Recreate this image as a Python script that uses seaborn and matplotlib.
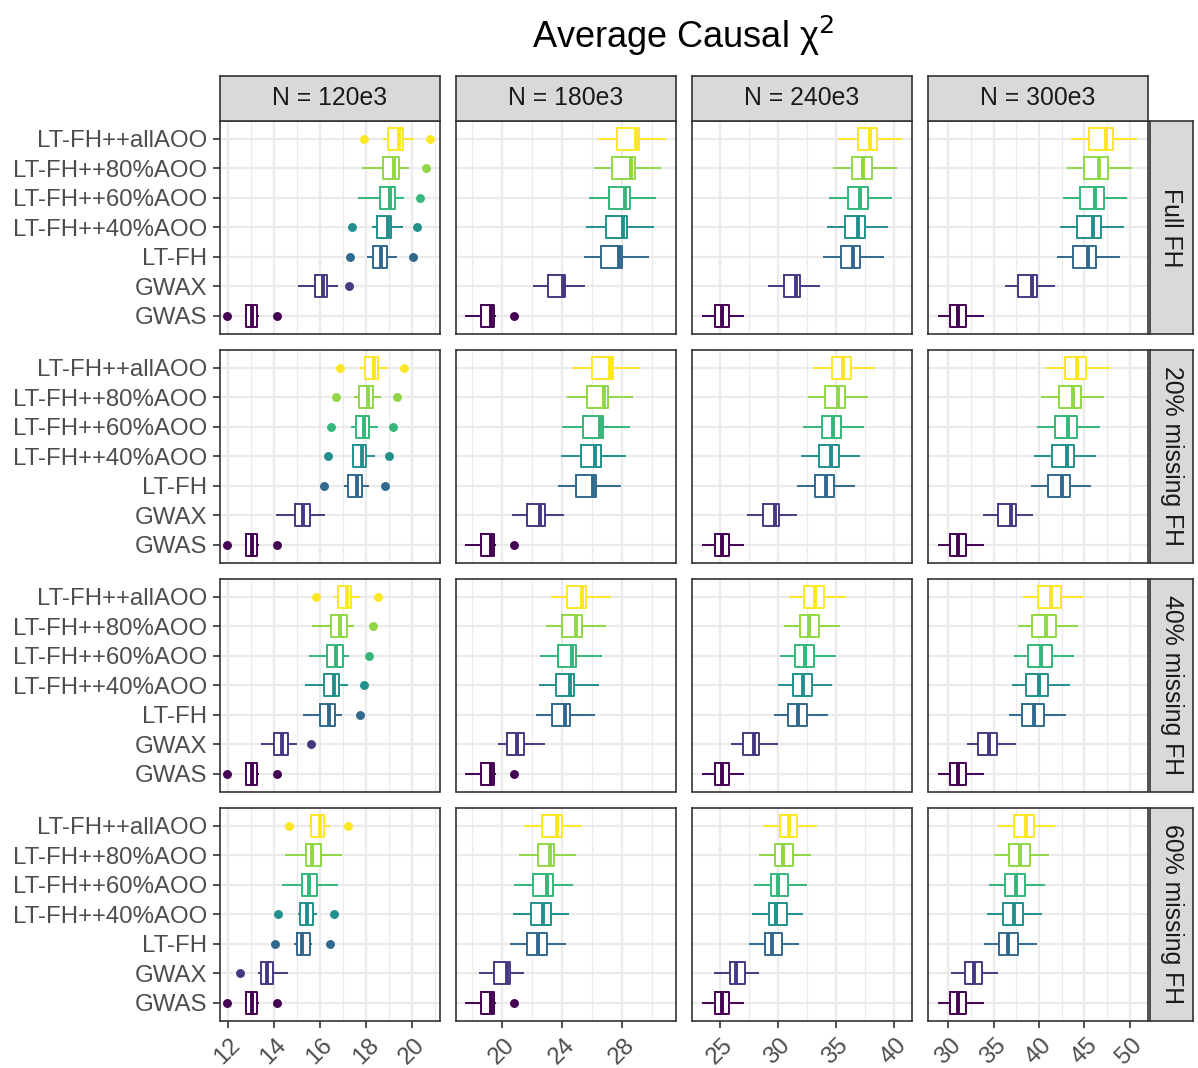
import numpy as np
import pandas as pd
import matplotlib
matplotlib.use("Agg")
import matplotlib.pyplot as plt
import seaborn as sns
from matplotlib.ticker import MultipleLocator

# ---------------- data ----------------
methods = ["LT-FH++allAOO", "LT-FH++80%AOO", "LT-FH++60%AOO", "LT-FH++40%AOO",
           "LT-FH", "GWAX", "GWAS"]
sample_sizes = ["N = 120e3", "N = 180e3", "N = 240e3", "N = 300e3"]
scenarios = ["Full FH", "20% missing FH", "40% missing FH", "60% missing FH"]
palette = ["#FDE725", "#8FD744", "#35B779", "#21908C", "#31688E", "#443A83", "#440154"]

# box summaries per method (top to bottom): (lower whisker, Q1, median, Q3, upper whisker)
full_120 = [(18.75, 18.96, 19.43, 19.60, 20.09), (17.84, 18.75, 19.23, 19.43, 19.88),
            (17.67, 18.61, 19.04, 19.26, 19.67), (18.25, 18.46, 18.94, 19.09, 19.59),
            (18.06, 18.29, 18.67, 18.90, 19.33), (15.06, 15.78, 16.14, 16.33, 16.80),
            (12.74, 12.80, 13.06, 13.29, 13.36)]
full_180 = [(26.39, 27.67, 28.93, 29.10, 30.88), (26.10, 27.34, 28.55, 28.82, 30.59),
            (25.77, 27.10, 28.20, 28.49, 30.26), (25.60, 26.90, 28.04, 28.33, 30.08),
            (25.44, 26.61, 27.78, 28.00, 29.77), (22.08, 23.07, 24.07, 24.18, 25.50),
            (17.55, 18.62, 19.27, 19.45, 19.58)]
full_240 = [(35.18, 36.90, 37.96, 38.53, 40.74), (34.80, 36.38, 37.33, 38.16, 40.25),
            (34.43, 36.04, 37.10, 37.81, 39.88), (34.23, 35.81, 36.95, 37.53, 39.53),
            (33.86, 35.46, 36.44, 37.10, 39.16), (29.16, 30.50, 31.60, 31.88, 33.60),
            (23.49, 24.57, 25.20, 25.77, 27.12)]
full_300 = [(43.58, 45.52, 47.41, 48.18, 50.81), (43.14, 44.97, 46.60, 47.63, 50.26),
            (42.67, 44.53, 46.18, 47.16, 49.72), (42.34, 44.24, 45.96, 46.87, 49.43),
            (41.98, 43.77, 45.45, 46.32, 48.99), (36.21, 37.67, 39.20, 39.75, 41.76),
            (28.90, 30.19, 31.03, 32.00, 33.91)]

m20_120 = [(17.73, 17.95, 18.34, 18.52, 18.96), (17.47, 17.72, 18.09, 18.32, 18.67),
           (17.35, 17.55, 17.90, 18.15, 18.51), (17.40, 17.42, 17.83, 18.00, 18.41),
           (17.03, 17.22, 17.61, 17.83, 18.15), (14.10, 14.93, 15.27, 15.58, 16.23),
           (12.74, 12.80, 13.06, 13.29, 13.36)]
m20_180 = [(24.66, 26.00, 27.16, 27.37, 29.15), (24.35, 25.67, 26.76, 27.03, 28.70),
           (24.00, 25.39, 26.50, 26.72, 28.49), (23.89, 25.22, 26.17, 26.55, 28.27),
           (23.69, 24.91, 26.02, 26.24, 27.94), (20.68, 21.68, 22.52, 22.85, 24.11),
           (17.55, 18.62, 19.27, 19.45, 19.58)]
m20_240 = [(33.00, 34.69, 35.64, 36.30, 38.36), (32.57, 34.11, 35.15, 35.83, 37.79),
           (32.20, 33.77, 34.78, 35.49, 37.42), (31.97, 33.57, 34.63, 35.27, 37.07),
           (31.62, 33.25, 34.15, 34.84, 36.69), (27.38, 28.76, 29.76, 30.13, 31.68),
           (23.49, 24.57, 25.20, 25.77, 27.12)]
m20_300 = [(40.73, 42.86, 44.21, 45.22, 47.85), (40.19, 42.20, 43.73, 44.68, 47.13),
           (39.75, 41.76, 43.19, 44.21, 46.76), (39.46, 41.47, 43.11, 43.91, 46.32),
           (39.17, 41.03, 42.56, 43.41, 45.77), (33.80, 35.44, 36.90, 37.52, 39.35),
           (28.90, 30.19, 31.03, 32.00, 33.91)]

m40_120 = [(16.60, 16.78, 17.18, 17.33, 17.73), (15.68, 16.50, 16.86, 17.18, 17.50),
           (15.55, 16.31, 16.71, 17.00, 17.25), (15.37, 16.20, 16.60, 16.81, 17.20),
           (15.25, 16.02, 16.38, 16.67, 16.96), (13.45, 14.03, 14.35, 14.64, 15.03),
           (12.74, 12.80, 13.06, 13.29, 13.36)]
m40_180 = [(23.25, 24.33, 25.35, 25.57, 27.27), (22.92, 24.02, 24.95, 25.35, 26.94),
           (22.56, 23.73, 24.66, 24.95, 26.68), (22.45, 23.56, 24.51, 24.79, 26.45),
           (22.25, 23.34, 24.18, 24.51, 26.17), (19.71, 20.31, 20.97, 21.48, 22.85),
           (17.55, 18.62, 19.27, 19.45, 19.58)]
m40_240 = [(30.97, 32.28, 33.20, 33.98, 35.87), (30.56, 31.91, 32.69, 33.57, 35.40),
           (30.19, 31.48, 32.34, 33.14, 35.00), (29.99, 31.28, 32.14, 32.91, 34.69),
           (29.68, 30.91, 31.77, 32.48, 34.35), (25.95, 26.98, 27.98, 28.41, 30.05),
           (23.49, 24.57, 25.20, 25.77, 27.12)]
m40_300 = [(38.26, 39.90, 41.36, 42.38, 44.94), (37.74, 39.28, 40.73, 41.91, 44.28),
           (37.27, 38.84, 40.26, 41.39, 43.84), (37.01, 38.54, 40.01, 41.03, 43.47),
           (36.73, 38.10, 39.46, 40.56, 43.00), (32.08, 33.33, 34.46, 35.37, 37.45),
           (28.90, 30.19, 31.03, 32.00, 33.91)]

m60_120 = [(15.54, 15.63, 15.99, 16.20, 16.45), (14.50, 15.40, 15.68, 16.06, 16.96),
           (14.35, 15.22, 15.54, 15.87, 16.77), (15.05, 15.12, 15.44, 15.69, 15.87),
           (14.86, 15.00, 15.22, 15.56, 15.66), (13.33, 13.45, 13.73, 13.96, 14.64),
           (12.74, 12.80, 13.06, 13.29, 13.36)]
m60_180 = [(21.48, 22.67, 23.63, 23.96, 25.33), (21.15, 22.37, 23.18, 23.47, 24.95),
           (20.82, 22.08, 22.96, 23.40, 24.73), (20.71, 21.92, 22.74, 23.23, 24.46),
           (20.53, 21.68, 22.41, 22.96, 24.24), (18.50, 19.47, 20.31, 20.53, 21.48),
           (17.55, 18.62, 19.27, 19.45, 19.58)]
m60_240 = [(28.76, 30.19, 31.00, 31.68, 33.34), (28.41, 29.76, 30.42, 31.34, 32.86),
           (27.98, 29.42, 29.99, 30.91, 32.54), (27.81, 29.25, 29.85, 30.76, 32.20),
           (27.53, 28.90, 29.47, 30.39, 31.85), (24.54, 25.89, 26.41, 27.18, 28.41),
           (23.49, 24.57, 25.20, 25.77, 27.12)]
m60_300 = [(35.44, 37.27, 38.54, 39.46, 41.76), (35.00, 36.73, 37.93, 38.98, 41.11),
           (34.53, 36.24, 37.45, 38.48, 40.67), (34.27, 35.99, 37.20, 38.26, 40.30),
           (33.99, 35.63, 36.62, 37.74, 39.82), (30.33, 31.86, 32.81, 33.72, 35.44),
           (28.90, 30.19, 31.03, 32.00, 33.91)]

# outlying points (per method, top to bottom)
out_full_120 = [[17.90, 20.78], [20.61], [20.35], [17.40, 20.20], [17.30, 20.03], [17.25], [11.98, 14.16]]
out_m20_120 = [[16.86, 19.64], [16.70, 19.35], [16.50, 19.16], [16.35, 18.99], [16.20, 18.81], [], [11.98, 14.16]]
out_m40_120 = [[15.84, 18.53], [18.31], [18.12], [17.93], [17.76], [15.62], [11.98, 14.16]]
out_m60_120 = [[14.68, 17.22], [], [], [14.20, 16.60], [14.06, 16.45], [12.54], [11.98, 14.16]]
out_any_180 = [[], [], [], [], [], [], [20.80]]
out_none = [[], [], [], [], [], [], []]

panels = [
    [(full_120, out_full_120), (full_180, out_any_180), (full_240, out_none), (full_300, out_none)],
    [(m20_120, out_m20_120), (m20_180, out_any_180), (m20_240, out_none), (m20_300, out_none)],
    [(m40_120, out_m40_120), (m40_180, out_any_180), (m40_240, out_none), (m40_300, out_none)],
    [(m60_120, out_m60_120), (m60_180, out_any_180), (m60_240, out_none), (m60_300, out_none)],
]

x_limits = [(11.67, 21.19), (16.95, 31.54), (22.63, 41.54), (27.81, 52.0)]
x_major = [2, 4, 5, 5]
x_minor = [1, 2, 2.5, 2.5]


def summary_to_sample(lo, q1, med, q3, hi, outs):
    """Smallest sample whose Tukey box summary equals the given values."""
    low = sorted(v for v in outs if v < q1)
    high = sorted(v for v in outs if v > q3)
    a, b = len(low), len(high)
    m = max(a, b) + 2
    vals = (low + [lo] + [q1] * (m - a - 1) + [q1]
            + [med] * (m - 1) + [med] + [med] * (m - 1)
            + [q3] + [q3] * (m - b - 1) + [hi] + high)
    return vals


# ---------------- style ----------------
sns.set_style("white")
plt.rcParams["font.family"] = ["Liberation Sans", "DejaVu Sans"]

W, H = 1198, 1068
fig = plt.figure(figsize=(W / 100, H / 100), dpi=100)


def rect(x0, y0, x1, y1):
    return [x0 / W, 1 - y1 / H, (x1 - x0) / W, (y1 - y0) / H]


col_left = [220, 456.1, 692.2, 928.3]
panel_w = 219.5
row_top = [121, 350, 579, 808]
panel_h = 212.5
border = "#333333"
grid_c = "#EBEBEB"
text_c = "#4D4D4D"
fs = 17.3

for r in range(4):
    for c in range(4):
        stats, outs = panels[r][c]
        rows = []
        for meth, st, ol in zip(methods, stats, outs):
            for v in summary_to_sample(*st, ol):
                rows.append((meth, v))
        df = pd.DataFrame(rows, columns=["method", "value"])

        x0 = col_left[c]
        y0 = row_top[r]
        ax = fig.add_axes(rect(x0, y0, x0 + panel_w, y0 + panel_h))

        # white box fill underneath (ggplot default fill)
        sns.boxplot(data=df, x="value", y="method", order=methods, color="white",
                    linecolor="white", fill=True, width=0.75, showcaps=False,
                    showfliers=False, linewidth=1.4, ax=ax)
        sns.boxplot(data=df, x="value", y="method", hue="method", order=methods,
                    hue_order=methods, palette=palette, fill=False, width=0.75,
                    showcaps=False, linewidth=1.4, legend=False,
                    medianprops=dict(linewidth=2.8),
                    flierprops=dict(marker="o", markersize=5.4), ax=ax)
        for ln in ax.lines:
            if ln.get_marker() == "o":
                ln.set_markerfacecolor(ln.get_markeredgecolor())

        ax.set_xlim(*x_limits[c])
        ax.set_ylim(6.6, -0.6)
        ax.xaxis.set_major_locator(MultipleLocator(x_major[c]))
        ax.xaxis.set_minor_locator(MultipleLocator(x_minor[c]))
        ax.set_axisbelow(True)
        ax.grid(True, which="major", axis="both", color=grid_c, linewidth=1.6)
        ax.grid(True, which="minor", axis="x", color=grid_c, linewidth=0.9)
        ax.set_xlabel("")
        ax.set_ylabel("")
        for sp in ax.spines.values():
            sp.set_visible(True)
            sp.set_color(border)
            sp.set_linewidth(1.2)
        ax.tick_params(which="minor", length=0)
        ax.tick_params(axis="y", which="major", left=(c == 0), labelleft=(c == 0),
                       length=5, width=1.2, color=border, pad=4,
                       labelsize=fs, labelcolor=text_c)
        ax.tick_params(axis="x", which="major", bottom=(r == 3), labelbottom=(r == 3),
                       length=5, width=1.2, color=border, pad=5,
                       labelsize=fs, labelcolor=text_c)
        if r == 3:
            for lab in ax.get_xticklabels():
                lab.set_rotation(45)
                lab.set_ha("center")

        # top strips
        if r == 0:
            sa = fig.add_axes(rect(x0, 75.5, x0 + panel_w, 120.5))
            sa.set_facecolor("#D9D9D9")
            sa.set_xticks([]); sa.set_yticks([])
            for sp in sa.spines.values():
                sp.set_color(border); sp.set_linewidth(1.2)
            sa.text(0.5, 0.5, sample_sizes[c], ha="center", va="center",
                    fontsize=17.8, color="#1A1A1A", transform=sa.transAxes)
        # right strips
        if c == 3:
            sa = fig.add_axes(rect(1150, y0, 1193, y0 + panel_h))
            sa.set_facecolor("#D9D9D9")
            sa.set_xticks([]); sa.set_yticks([])
            for sp in sa.spines.values():
                sp.set_color(border); sp.set_linewidth(1.2)
            sa.text(0.5, 0.5, scenarios[r], ha="center", va="center", rotation=-90,
                    fontsize=17.8, color="#1A1A1A", transform=sa.transAxes)

fig.text(683.5 / W, 1 - 36 / H, "Average Causal χ$^2$", ha="center", va="center",
         fontsize=26, color="black")

fig.savefig("out.png", dpi=100)
